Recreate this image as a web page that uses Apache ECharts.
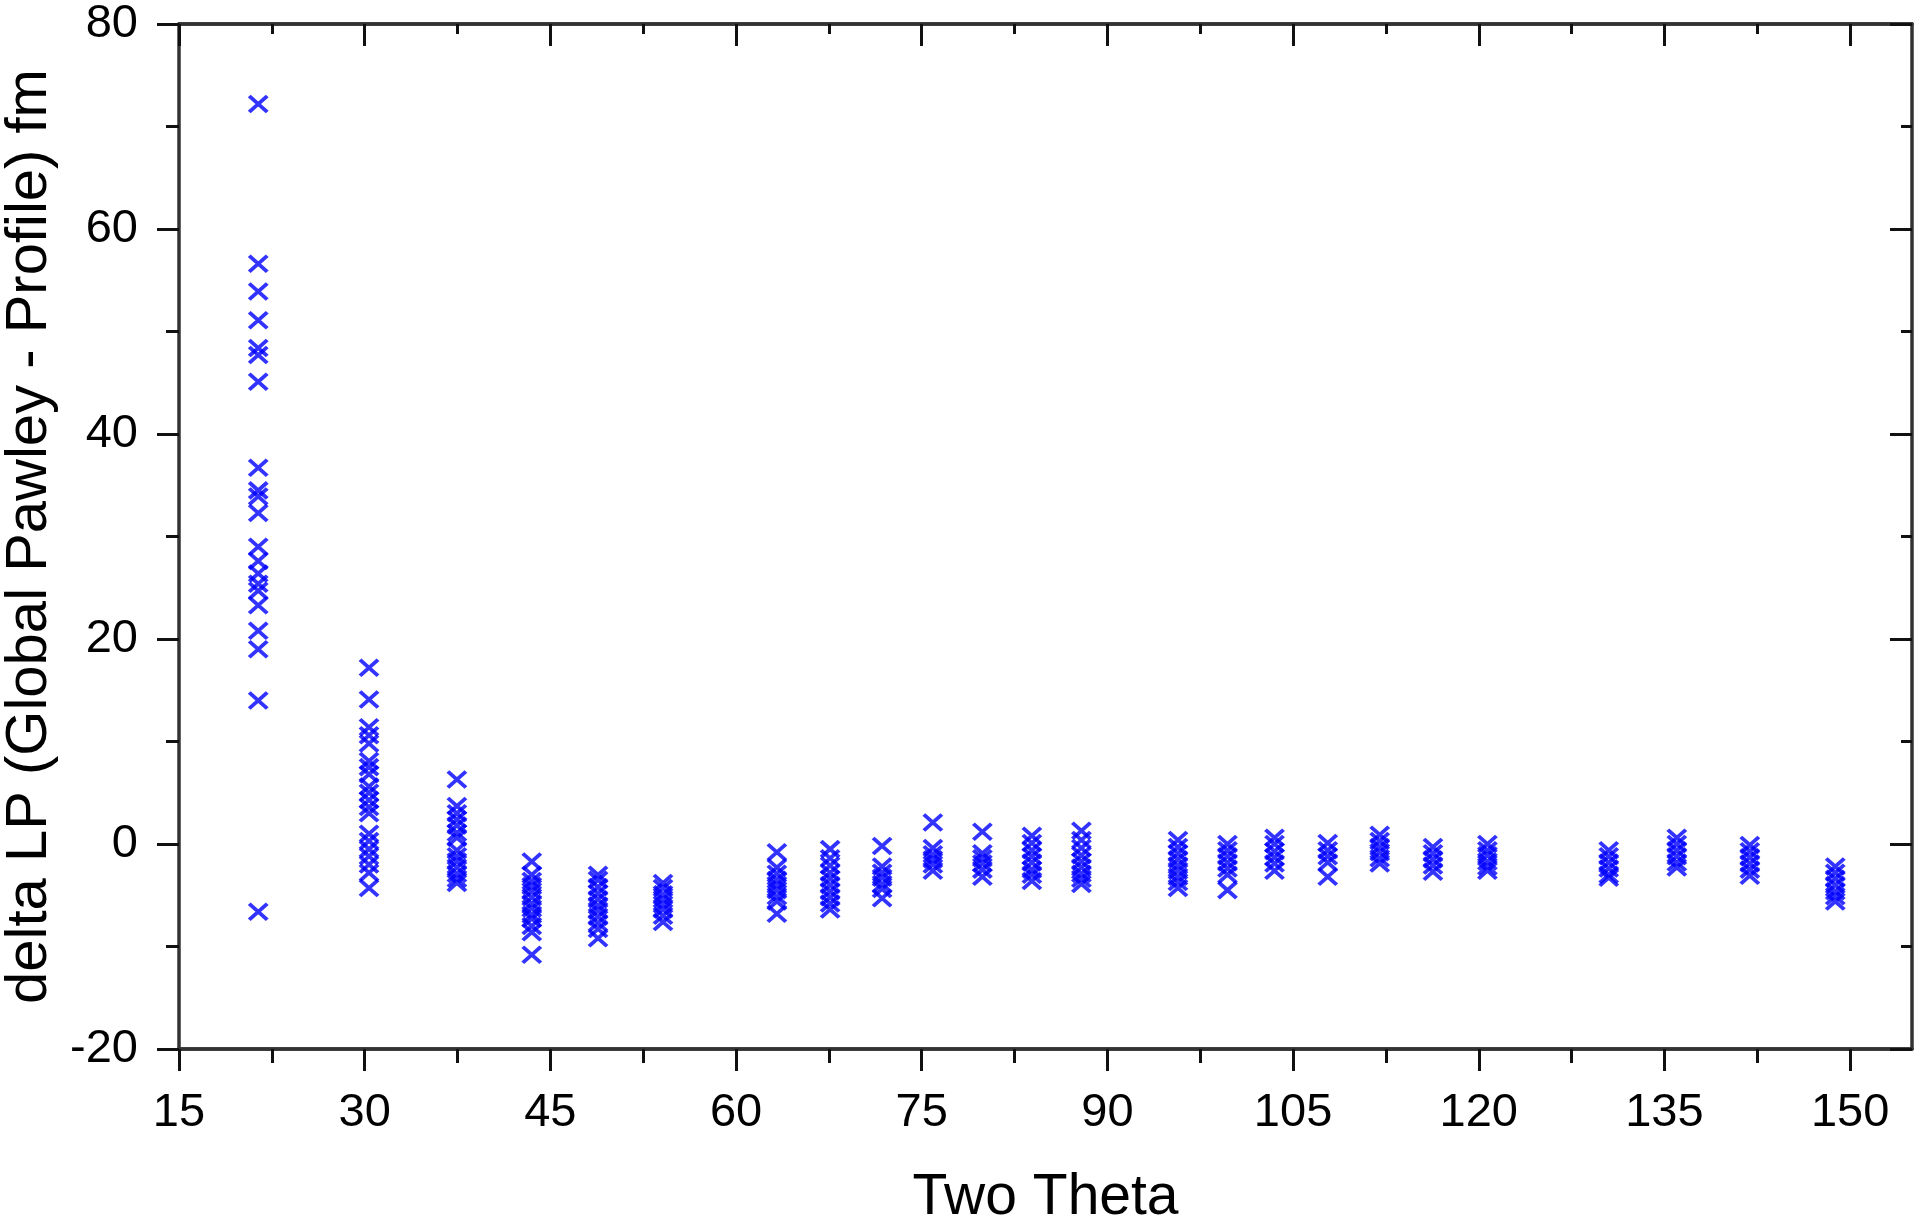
<!DOCTYPE html>
<html>
<head>
<meta charset="utf-8">
<script src="https://cdn.jsdelivr.net/npm/echarts@6/dist/echarts.min.js"></script>
<style>
  html, body { margin: 0; padding: 0; background: #fff; }
  #chart { width: 1920px; height: 1220px; }
</style>
</head>
<body>
<div id="chart"></div>
<script>
// two theta position of each reflection
var thetaPositions = [21.4, 30.35, 37.45, 43.5, 48.85, 54.1, 63.3, 67.6, 71.8, 75.9, 79.9, 83.9,
    87.9, 95.7, 99.7, 103.5, 107.8, 112.0, 116.3, 120.7, 130.5, 136.0, 141.9, 148.8];

// delta LP values measured at each reflection (same order as above)
var deltaValues = [
    [72.2, 56.6, 53.9, 51.1, 48.4, 47.7, 45.1, 36.7, 34.5, 33.9, 32.3, 29.0, 27.6, 26.4, 25.4, 24.7, 23.3, 20.8, 19.0, 14.0, -6.6],
    [17.2, 14.1, 11.4, 10.6, 9.8, 8.1, 7.5, 6.8, 5.6, 5.0, 4.3, 3.6, 3.0, 1.0, 0.3, -0.5, -1.2, -2.0, -2.8, -4.3],
    [6.3, 3.7, 3.0, 2.4, 1.8, 1.1, 0.6, -0.6, -1.2, -1.7, -2.3, -2.9, -3.4, -3.8],
    [-1.7, -3.0, -3.6, -4.1, -4.6, -5.2, -5.8, -6.3, -6.9, -7.3, -8.0, -8.6, -10.8],
    [-3.0, -3.5, -4.2, -4.8, -5.4, -6.0, -6.5, -7.1, -7.7, -8.3, -9.2],
    [-3.8, -4.3, -4.9, -5.4, -5.9, -6.4, -7.0, -7.6],
    [-0.8, -2.3, -2.9, -3.5, -4.0, -4.5, -5.1, -5.6, -6.8],
    [-0.5, -1.4, -2.1, -2.8, -3.4, -4.0, -4.6, -5.2, -5.8, -6.4],
    [-0.2, -2.2, -2.8, -3.3, -3.9, -4.4, -5.3],
    [2.1, -0.4, -1.0, -1.5, -2.0, -2.6],
    [1.2, -0.9, -1.4, -1.9, -2.5, -3.2],
    [0.8, 0.1, -0.6, -1.2, -1.8, -2.5, -3.0, -3.6],
    [1.3, 0.4, -0.4, -1.1, -1.7, -2.3, -2.9, -3.4, -3.9],
    [0.4, -0.3, -0.9, -1.5, -2.1, -2.6, -3.2, -3.7, -4.3],
    [0.0, -0.6, -1.2, -1.8, -2.4, -3.0, -4.5],
    [0.6, 0.0, -0.7, -1.3, -1.9, -2.6],
    [0.1, -0.6, -1.2, -1.8, -3.2],
    [0.9, 0.3, -0.3, -0.8, -1.4, -1.9],
    [-0.3, -0.9, -1.5, -2.1, -2.7],
    [0.0, -0.6, -1.1, -1.7, -2.2, -2.6],
    [-0.6, -1.2, -1.8, -2.4, -3.0, -3.3],
    [0.6, 0.0, -0.6, -1.2, -1.8, -2.3],
    [-0.1, -0.7, -1.3, -1.9, -2.5, -3.1],
    [-2.2, -2.8, -3.4, -4.0, -4.6, -5.1, -5.6]
];

var xTickLabels = [15, 30, 45, 60, 75, 90, 105, 120, 135, 150];
var xMinorTicks = [22.5, 37.5, 52.5, 67.5, 82.5, 97.5, 112.5, 127.5, 142.5];

var points = [];
thetaPositions.forEach(function (t, i) {
    deltaValues[i].forEach(function (v) {
        points.push([t, v]);
    });
});

var lineStyle = { color: '#333', width: 3.5 };
var tickStyle = { color: '#111', width: 3 };
var labelFont = { fontFamily: 'Liberation Sans', fontSize: 47, color: '#000' };

function xAxisDef(pos, ticks, len, inside, withLabels) {
    return {
        type: 'value', position: pos, min: 15, max: 155, interval: 15,
        axisLine: { show: true, onZero: false, lineStyle: lineStyle },
        axisTick: { show: true, inside: inside, length: len, lineStyle: tickStyle, customValues: ticks },
        axisLabel: withLabels ? Object.assign({ show: true, margin: 41, customValues: xTickLabels }, labelFont) : { show: false },
        splitLine: { show: false }
    };
}

var chart = echarts.init(document.getElementById('chart'));
var option = {
    animation: false,
    backgroundColor: '#fff',
    grid: { left: 179, right: 8, top: 24, bottom: 171, containLabel: false, outerBoundsMode: 'none' },
    xAxis: [
        Object.assign(xAxisDef('bottom', xTickLabels, 22, false, true), {
            name: 'Two Theta', nameLocation: 'middle', nameGap: 121,
            nameTextStyle: { fontFamily: 'Liberation Sans', fontSize: 57, color: '#000' }
        }),
        xAxisDef('bottom', xMinorTicks, 14, false, false),
        xAxisDef('top', xTickLabels, 22, true, false),
        xAxisDef('top', xMinorTicks, 10, true, false)
    ],
    yAxis: [{
        type: 'value', position: 'left', min: -20, max: 80, interval: 20,
        name: 'delta LP (Global Pawley - Profile) fm', nameLocation: 'middle', nameGap: 115, nameRotate: 90,
        nameTextStyle: { fontFamily: 'Liberation Sans', fontSize: 58, color: '#000' },
        axisLine: { show: true, onZero: false, lineStyle: lineStyle },
        axisTick: { show: true, inside: false, length: 22, lineStyle: tickStyle },
        minorTick: { show: true, splitNumber: 2, length: 13, lineStyle: tickStyle },
        axisLabel: Object.assign({ margin: 41 }, labelFont),
        splitLine: { show: false }
    }, {
        type: 'value', position: 'right', min: -20, max: 80, interval: 20,
        axisLine: { show: true, onZero: false, lineStyle: lineStyle },
        axisTick: { show: true, inside: true, length: 22, lineStyle: tickStyle },
        minorTick: { show: true, splitNumber: 2, length: 11, lineStyle: tickStyle },
        axisLabel: { show: false },
        splitLine: { show: false }
    }],
    series: [{
        type: 'scatter',
        xAxisIndex: 0,
        yAxisIndex: 0,
        symbol: 'path://M0,0L10,10M10,0L0,10',
        symbolSize: [18, 16],
        itemStyle: { color: 'rgba(0,0,0,0)', borderColor: '#0000ff', borderWidth: 3.8 },
        data: points
    }]
};
chart.setOption(option);
</script>
</body>
</html>
